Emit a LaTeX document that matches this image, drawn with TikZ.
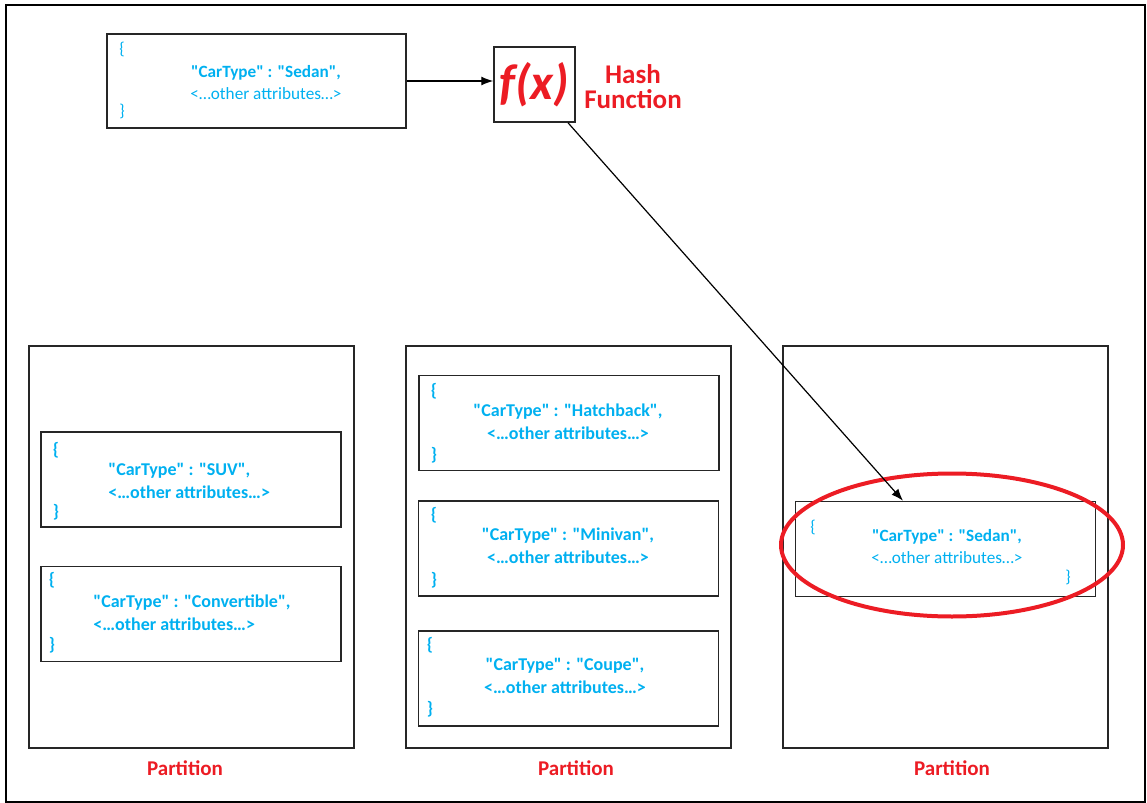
\documentclass[tikz,border=0pt]{standalone}
\usepackage{fontspec}
\setmainfont{Carlito}[Ligatures=TeXOff]
\usetikzlibrary{shapes.geometric,arrows.meta,positioning,calc}
\definecolor{jsonBlue}{RGB}{0,176,240}
\definecolor{hashRed}{RGB}{236,28,36}

\begin{document}
\begin{tikzpicture}[x=0.5pt,y=-0.5pt,
        rec/.style={draw=black!85,line width=0.75pt,minimum width=150pt,
                    minimum height=47.5pt,inner sep=0},
        part/.style={draw=black!85,line width=0.75pt,minimum width=162.5pt,
                     minimum height=201pt,inner sep=0},
        json/.style={text=jsonBlue,font=\fontsize{8.6}{11}\selectfont,
                     align=center,inner sep=0},
        jsonb/.style={json,font=\fontsize{9}{11.5}\selectfont\bfseries},
        brc/.style={text=jsonBlue,font=\fontsize{8.6}{11}\selectfont,inner sep=0},
        brcb/.style={brc,font=\fontsize{9}{11}\selectfont\bfseries},
        lbl/.style={text=hashRed,font=\fontsize{10.5}{13}\selectfont\bfseries},
        arr/.style={-{Latex[length=6pt,width=4.5pt]},line width=0.6pt}]
        \useasboundingbox (0,0) rectangle (1147,803);
        \draw[line width=1.2pt] (6,5) rectangle (1145,802);
        % incoming record and hash
        \node[rec,minimum width=149.5pt,minimum height=47pt] (input) at (256.5,81) {};
        \node[json] (inTxt) at (266,83) {\textbf{"CarType" : "Sedan",}\\<…other attributes…>};
        \node[brc] (inL) at (122,49) {\{};
        \node[brc] (inR) at (122,111) {\}};
        \node[draw=black!85,line width=0.75pt,minimum width=40.5pt,minimum height=37.5pt,
              inner sep=0,text=hashRed,font=\fontsize{25}{25}\selectfont\bfseries\itshape]
              (fx) at (534.5,84.5) {f(x)};
        \node[text=hashRed,font=\fontsize{13.5}{12.5}\selectfont\bfseries,align=center]
              (hashLbl) at (633,87) {Hash\\Function};
        % partitions
        \node[part] (p1) at (191.5,547) {};
        \node[part] (p2) at (568.5,547) {};
        \node[part] (p3) at (945.5,547) {};
        \node[lbl] (p1Lbl) at (185,768) {Partition};
        \node[lbl] (p2Lbl) at (576,768) {Partition};
        \node[lbl] (p3Lbl) at (952,768) {Partition};
        % partition 1
        \node[rec] (suv) at (191,479.5) {};
        \node[jsonb,align=left,anchor=west] (suvTxt) at (108,481) {"CarType" : "SUV",\\<…other attributes…>};
        \node[brcb] (suvL) at (56,450) {\{};
        \node[brcb] (suvR) at (56,512) {\}};
        \node[rec] (conv) at (191,614) {};
        \node[jsonb,align=left,anchor=west] (convTxt) at (93,613) {"CarType" : "Convertible",\\<…other attributes…>};
        \node[brcb] (convL) at (52,580) {\{};
        \node[brcb] (convR) at (52,645) {\}};
        % partition 2
        \node[rec] (hatch) at (569,423) {};
        \node[jsonb] (hatchTxt) at (568,422) {"CarType" : "Hatchback",\\<…other attributes…>};
        \node[brcb] (hatchL) at (434,391) {\{};
        \node[brcb] (hatchR) at (434,455) {\}};
        \node[rec] (mini) at (568.5,548.5) {};
        \node[jsonb] (miniTxt) at (568,546) {"CarType" : "Minivan",\\<…other attributes…>};
        \node[brcb] (miniL) at (434,515) {\{};
        \node[brcb] (miniR) at (434,580) {\}};
        \node[rec] (coupe) at (568.5,678.5) {};
        \node[jsonb] (coupeTxt) at (565,676) {"CarType" : "Coupe",\\<…other attributes…>};
        \node[brcb] (coupeL) at (430,645) {\{};
        \node[brcb] (coupeR) at (430,709) {\}};
        % partition 3
        \node[rec] (sedan) at (945.5,549) {};
        \node[json] (sedanTxt) at (947,547) {\textbf{"CarType" : "Sedan",}\\<…other attributes…>};
        \node[brc] (sedanL) at (813,527) {\{};
        \node[brc] (sedanR) at (1068,577) {\}};
        \node[ellipse,draw=hashRed,line width=2pt,minimum width=171pt,minimum height=71.5pt]
              (pick) at (952,545) {};
        % arrows
        \draw[arr] (input.east) -- (input.east -| fx.west);
        \draw[arr] ([shift={(33.5,0)}]fx.south) -- ([shift={(-42.5,0)}]sedan.north);
      \end{tikzpicture}
\end{document}
